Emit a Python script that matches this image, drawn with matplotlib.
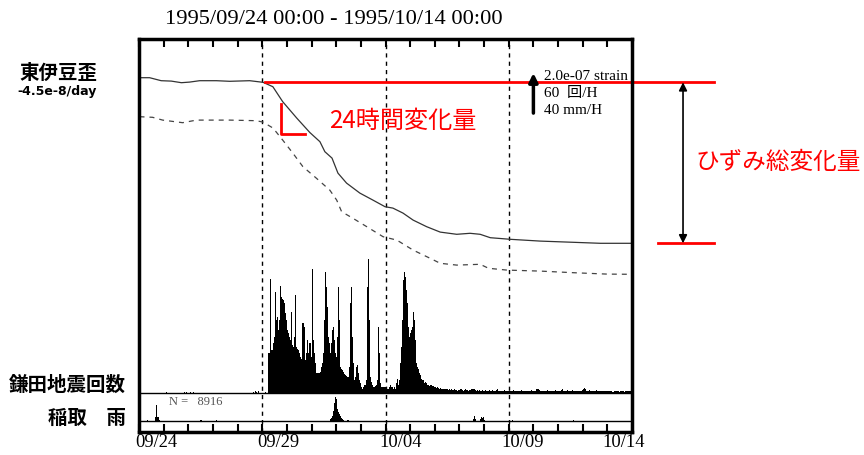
import matplotlib
matplotlib.use("Agg")
import matplotlib.pyplot as plt
import numpy as np

# ---- datos ----
# deformacion (unidades de 1e-7 strain), x en dias desde 1995/09/24 00:00
strain_day = [0.02, 0.43, 0.90, 1.31, 1.72, 2.05, 2.46, 3.14, 3.68, 4.49, 5.03, 5.43, 5.83,
              6.40, 6.93, 7.34, 7.54, 7.83, 8.07, 8.42, 8.96, 9.49, 9.98, 10.30, 10.71,
              11.12, 11.67, 12.22, 12.89, 13.43, 13.84, 14.25, 15.06, 16.28, 17.62, 18.72, 20.0]
strain_corr = [-0.01, -0.01, -0.16, -0.18, -0.26, -0.23, -0.16, -0.16, -0.19, -0.16, -0.24,
               -0.46, -1.21, -2.03, -2.75, -3.21, -3.71, -4.03, -4.78, -5.28, -5.78, -6.13,
               -6.46, -6.53, -6.78, -7.13, -7.46, -7.73, -7.84, -7.79, -7.84, -8.01, -8.09,
               -8.18, -8.24, -8.29, -8.29]
raw_day = [0.02, 0.55, 0.96, 1.77, 2.33, 3.68, 4.76, 5.03, 5.44, 5.83, 6.24, 6.65, 7.20,
           7.74, 8.02, 8.22, 8.68, 9.24, 9.90, 10.46, 11.12, 11.81, 12.22, 12.89, 13.84,
           14.18, 14.93, 16.28, 17.62, 18.99, 20.0]
strain_raw = [-1.96, -1.99, -2.13, -2.26, -2.13, -2.13, -2.16, -2.23, -2.53, -3.13, -3.78,
              -4.46, -5.04, -5.63, -6.13, -6.71, -7.04, -7.46, -7.96, -8.13, -8.63, -9.04,
              -9.29, -9.38, -9.34, -9.54, -9.63, -9.68, -9.76, -9.83, -9.84]

# numero de terremotos por hora (Kamata), una fila por dia
eq_counts = [
    0, 0, 0, 0, 0, 0, 0, 0, 0, 0, 0, 0, 0, 0, 0, 0, 0, 0, 0, 0, 0, 0, 0, 0,
    0, 0, 1, 0, 0, 0, 0, 0, 0, 0, 0, 0, 0, 0, 0, 0, 0, 0, 0, 0, 1, 0, 1, 0,
    0, 0, 1, 0, 0, 1, 0, 0, 0, 0, 0, 0, 0, 0, 0, 0, 0, 0, 0, 0, 0, 0, 0, 0,
    0, 0, 0, 0, 0, 0, 0, 0, 0, 0, 0, 0, 0, 0, 0, 0, 0, 0, 0, 0, 0, 0, 0, 0,
    0, 0, 0, 0, 0, 0, 0, 0, 0, 0, 0, 0, 0, 0, 0, 1, 0, 2, 1, 0, 2, 0, 0, 0,
    0, 0, 0, 1, 0, 0, 59, 59, 171, 64, 74, 84, 151, 109, 114, 94, 109, 160, 144, 141, 139, 134, 119, 109,
    94, 89, 84, 79, 121, 71, 69, 84, 146, 69, 66, 64, 59, 54, 51, 105, 105, 99, 49, 59, 79, 59, 74, 54,
    186, 79, 59, 44, 29, 29, 30, 29, 31, 39, 44, 59, 109, 181, 159, 129, 84, 74, 59, 74, 94, 99, 79, 59,
    54, 84, 159, 109, 39, 36, 34, 31, 28, 26, 25, 24, 39, 134, 159, 84, 44, 19, 24, 39, 41, 29, 19, 14,
    9, 6, 9, 11, 11, 19, 159, 201, 109, 24, 16, 11, 9, 9, 10, 11, 19, 98, 59, 14, 9, 9, 9, 8,
    6, 5, 6, 9, 11, 9, 9, 6, 9, 6, 14, 20, 11, 19, 44, 69, 109, 169, 181, 174, 154, 134, 99, 84,
    89, 94, 99, 121, 109, 79, 44, 39, 36, 29, 26, 21, 19, 14, 16, 14, 11, 11, 10, 11, 11, 10, 10, 9,
    8, 7, 8, 7, 6, 7, 6, 6, 5, 6, 5, 6, 5, 4, 5, 4, 5, 4, 4, 5, 4, 4, 3, 4,
    4, 5, 4, 3, 4, 5, 4, 4, 3, 4, 4, 5, 6, 5, 6, 4, 3, 4, 3, 4, 3, 3, 4, 3,
    3, 4, 3, 2, 3, 4, 3, 3, 4, 3, 2, 3, 4, 5, 3, 3, 2, 3, 3, 4, 3, 2, 3, 3,
    3, 2, 3, 3, 4, 3, 2, 3, 3, 2, 3, 3, 4, 3, 2, 3, 2, 3, 3, 2, 3, 3, 4, 3,
    2, 3, 3, 5, 6, 4, 3, 2, 3, 3, 2, 3, 3, 4, 3, 2, 3, 3, 2, 2, 3, 4, 3, 2,
    3, 2, 3, 4, 5, 3, 2, 3, 3, 4, 3, 2, 3, 3, 4, 3, 2, 3, 2, 3, 3, 2, 3, 4,
    6, 7, 5, 3, 2, 3, 4, 3, 2, 3, 3, 2, 3, 4, 3, 2, 2, 3, 2, 2, 3, 2, 3, 2,
    3, 2, 2, 3, 2, 1, 3, 2, 2, 3, 2, 1, 3, 2, 2, 3, 1, 2, 3, 2, 2, 3, 2, 1,
]

# lluvia en Inatori (mm/h), solo las horas con lluvia
rain_hour = [8, 16, 17, 18, 19, 59, 60, 75, 186, 187, 188, 189, 190, 191, 192, 193, 194, 195,
             196, 197, 198, 199, 203, 325, 326, 327, 332, 333, 334, 335, 336, 363, 423]
rain_mm = [1, 4, 16, 4, 1, 1, 1, 1, 2, 3, 5, 10, 18, 24, 22, 12, 9, 7, 5, 3, 2, 1, 1,
           2, 5, 2, 2, 4, 3, 4, 1, 1, 1]

tick_days = [0, 5, 10, 15, 20]
tick_labels = ['09/24', '09/29', '10/04', '10/09', '10/14']
tick_dx = [-2.5, -3.5, -4.5, -5, -21]   # desplazamiento de cada etiqueta (pt)

W, H = 864, 455
SERIF = ['Liberation Serif', 'Noto Sans CJK JP']
JP = ['Noto Sans CJK JP', 'DejaVu Sans']


def fx(px):
    return px / W


def fy(py):
    return 1 - py / H


fig = plt.figure(figsize=(W / 100, H / 100), dpi=100)
rect = [fx(139), fy(432), (632 - 139) / W, (432 - 39) / H]

# eje principal: deformacion (20 px = 1e-7)
ax = fig.add_axes(rect)
ax.set_xlim(0, 20)
ax.set_ylim(-(432 - 77.5) / 20, (77.5 - 39) / 20)
for sp in ax.spines.values():
    sp.set_linewidth(2.5)
ax.set_yticks([])
ax.set_xticks(range(21))
ax.set_xticklabels([])
ax.tick_params(axis='x', direction='in', top=True, bottom=True, length=6, width=1.5)
for d in [5, 10, 15]:
    ax.axvline(d, color='k', ls=(0, (3, 3)), lw=1)
ax.plot(strain_day, strain_corr, color='#333333', lw=0.9)
ax.plot(raw_day, strain_raw, color='#444444', lw=0.9, ls=(0, (4, 4)))

for d, lab, dx in zip(tick_days, tick_labels, tick_dx):
    ax.annotate(lab, xy=(d, 0), xycoords=('data', 'axes fraction'), xytext=(dx, -7.5),
                textcoords='offset points', ha='left', va='center', fontsize=13.3,
                family=SERIF, annotation_clip=False)

# sismos por hora (1 px = 1.5 eventos)
ax_eq = fig.add_axes(rect, sharex=ax)
ax_eq.set_ylim(-(432 - 392.5) * 1.5, (392.5 - 39) * 1.5)
ax_eq.axis('off')
ax_eq.bar(np.arange(len(eq_counts)) / 24, eq_counts, width=1 / 24, align='edge',
          color='black', linewidth=0)
ax_eq.axhline(0, color='k', lw=1)

# lluvia (1 px = 1 mm/h)
ax_rn = fig.add_axes(rect, sharex=ax)
ax_rn.set_ylim(-(432 - 420.7), 420.7 - 39)
ax_rn.axis('off')
ax_rn.bar(np.array(rain_hour) / 24, rain_mm, width=1 / 24, align='edge',
          color='black', linewidth=0)
ax_rn.axhline(0, color='k', lw=1)

# escala
ax.annotate('', xy=(16.0, -1.78 + 2.0), xytext=(16.0, -1.78),
            arrowprops=dict(arrowstyle='-|>', lw=2.5, color='k', mutation_scale=13,
                            shrinkA=0, shrinkB=0))
for py, txt in zip([76.7, 93.3, 110], ['2.0e-07 strain', '60  回/H', '40 mm/H']):
    fig.text(fx(544), fy(py), txt, ha='left', va='center', fontsize=11, family=SERIF)
fig.text(fx(169), fy(402), 'N =   8916', ha='left', va='center', fontsize=9,
         family=SERIF, color='#555555')

# anotaciones en rojo
red = '#ff0000'
s0 = strain_corr[strain_day.index(5.03)]
s1 = strain_corr[-1]
ax.plot([5.1, 23.33], [s0, s0], color=red, lw=2, clip_on=False)
ax.plot([21.05, 23.33], [s1, s1], color=red, lw=2, clip_on=False)
ax.annotate('', xy=(22.07, s0), xytext=(22.07, s1),
            arrowprops=dict(arrowstyle='<|-|>', lw=1.2, color='k', mutation_scale=12,
                            shrinkA=0, shrinkB=0), annotation_clip=False)
ax.plot([5.77, 5.77, 6.73], [-1.33, -2.83, -2.83], color=red, lw=2, clip_on=False)
fig.text(fx(329), fy(121), '24時間変化量', ha='left', va='center', fontsize=17.4,
         family=JP, color=red)
fig.text(fx(695), fy(162), 'ひずみ総変化量', ha='left', va='center', fontsize=17,
         family=JP, color=red)

# titulos y etiquetas
fig.text(fx(334), fy(20), '1995/09/24 00:00 - 1995/10/14 00:00', ha='center',
         va='center', fontsize=16.2, family=SERIF)
fig.text(fx(58), fy(73.5), '東伊豆歪', ha='center', va='center', fontsize=14,
         family=JP, weight='bold')
fig.text(fx(57), fy(91.5), '-4.5e-8/day', ha='center', va='center', fontsize=9,
         family=['Liberation Sans Narrow', 'DejaVu Sans'], weight='bold')
fig.text(fx(126), fy(385), '鎌田地震回数', ha='right', va='center', fontsize=14,
         family=JP, weight='bold')
fig.text(fx(126), fy(418), '稲取\u3000雨', ha='right', va='center', fontsize=14,
         family=JP, weight='bold')

fig.savefig('out.png', dpi=100)
